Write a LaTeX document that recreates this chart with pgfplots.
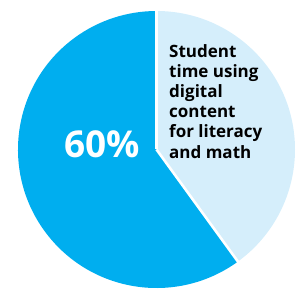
\documentclass[border=0pt]{standalone}
\usepackage{pgfplots}
\pgfplotsset{compat=1.18}
\usepackage{fontspec}
\setmainfont{Open Sans}
\definecolor{darkslice}{HTML}{00AEEF}
\definecolor{lightslice}{HTML}{D5EEFB}
\begin{document}
\begin{tikzpicture}
\begin{axis}[
  x=1pt, y=1pt,
  xmin=-156.5, xmax=146.5, ymin=-147.5, ymax=149.5,
  hide axis, clip=false, scale only axis,
]
% pie values (percent)
\pgfmathsetmacro{\valA}{40}% light: digital content
\pgfmathsetmacro{\valB}{60}% dark
\pgfmathsetmacro{\angA}{90-3.6*\valA}
\pgfmathsetmacro{\angB}{\angA-3.6*\valB}
\def\R{138.5}
\pgfmathsetmacro{\xA}{\R*cos(\angA)}
\pgfmathsetmacro{\yA}{\R*sin(\angA)}
\pgfmathsetmacro{\xAA}{(\R+3)*cos(\angA)}
\pgfmathsetmacro{\yAA}{(\R+3)*sin(\angA)}
\fill[lightslice] (axis cs:0,0) -- (axis cs:0,\R) arc[start angle=90, end angle=\angA, radius=\R pt] -- cycle;
\fill[darkslice] (axis cs:0,0) -- (axis cs:\xA,\yA) arc[start angle=\angA, end angle=\angB, radius=\R pt] -- cycle;
\draw[white, line width=2.6pt] (axis cs:0,0) -- (axis cs:0,142);
\draw[white, line width=2.6pt] (axis cs:0,0) -- (axis cs:\xAA,\yAA);
\node[anchor=base west, inner sep=0, text=white, font=\fontsize{37}{40}\selectfont\bfseries] at (axis cs:-92.5,-8.5) {60\%};
\node[anchor=north west, inner sep=0, align=left, text=black, font=\fontsize{17}{20.2}\selectfont\bfseries] at (axis cs:12.5,105.5) {Student\\time using\\digital\\content\\for literacy\\and math};
\coordinate (bbsw) at (axis cs:-156.5,-147.5);
\coordinate (bbne) at (axis cs:146.5,149.5);
\end{axis}
\pgfresetboundingbox
\path[use as bounding box] (bbsw) rectangle (bbne);
\end{tikzpicture}
\end{document}
